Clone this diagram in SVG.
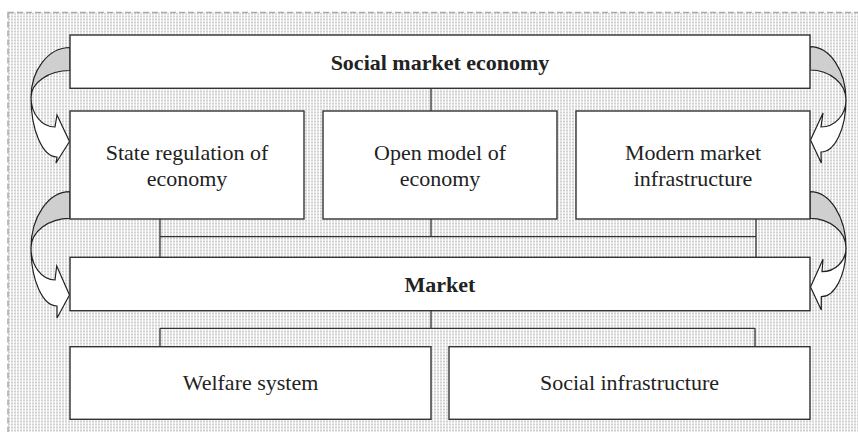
<svg xmlns="http://www.w3.org/2000/svg" width="858" height="432" viewBox="0 0 858 432">
<defs>
<pattern id="dots" x="8" y="12.5" width="3" height="3" patternUnits="userSpaceOnUse">
<rect width="3" height="3" fill="#ffffff"/>
<rect width="2" height="2" fill="#cfcfcf"/>
</pattern>
<style>
.box{fill:#ffffff;stroke:#333333;stroke-width:1.4}
.conn{fill:none;stroke:#333333;stroke-width:1.3}
.back{fill:#cfcfcf;stroke:#222222;stroke-width:1.2;stroke-linejoin:round}
.front{fill:#ffffff;stroke:#222222;stroke-width:1.2;stroke-linejoin:miter}
text{font-family:"Liberation Serif","Times New Roman",serif;font-size:22px;fill:#222222;text-anchor:middle}
.b{font-weight:bold}
</style>
</defs>
<rect x="0" y="0" width="858" height="432" fill="#ffffff"/>
<rect x="8" y="12.5" width="860" height="430" fill="url(#dots)" stroke="#aaaaaa" stroke-width="1.5" stroke-dasharray="6 3"/>

<g id="connectors">
<path class="conn" d="M431,88 V111"/>
<path class="conn" d="M160,219 V257.3"/>
<path class="conn" d="M160,236.7 H756"/>
<path class="conn" d="M431,219 V236.7"/>
<path class="conn" d="M756,219 V257.3"/>
<path class="conn" d="M431,310.7 V328.3"/>
<path class="conn" d="M160,328.3 H755"/>
<path class="conn" d="M160,328.3 V346.7"/>
<path class="conn" d="M755,328.3 V346.7"/>
</g>

<g id="arrows">
<g id="arrow-left-top">
<path class="back" d="M70,47.5 A39,50 0 0 0 31,97.5 A39,27 0 0 1 70,70.5 Z"/>
<path class="front" d="M31,97.5 A24,29.5 0 0 0 55,127 L57,115 L69.5,141.5 L56,163 L57,157 A26,59.5 0 0 1 31,97.5 Z"/>
</g>
<g id="arrow-left-bottom">
<path class="back" d="M70,191.7 A39,56.3 0 0 0 31,248 A39,29.7 0 0 1 70,218.3 Z"/>
<path class="front" d="M31,248 A24,32 0 0 0 55,280 L56.7,266 L69.5,295 L57,318 L57,306 A26,58 0 0 1 31,248 Z"/>
</g>
<g id="arrow-right-top">
<path class="back" d="M810,46.7 A36,53.3 0 0 1 846,100 A36,30 0 0 0 810,70 Z"/>
<path class="front" d="M846,100 A25,27 0 0 1 821,127 L823,113 L810.5,140 L821.3,163 L821,152 A25,52 0 0 0 846,100 Z"/>
</g>
<g id="arrow-right-bottom">
<path class="back" d="M810,191.7 A36,56.3 0 0 1 846,248 A36,29.7 0 0 0 810,218.3 Z"/>
<path class="front" d="M846,248 A24,23.7 0 0 1 822,271.7 L823,259.3 L810.5,287 L821.3,310 L821.3,296.7 A24.7,48.7 0 0 0 846,248 Z"/>
</g>
</g>

<g id="node-social-market-economy">
<rect class="box" x="70" y="35" width="740" height="53.3"/>
<text class="b" x="440" y="70">Social market economy</text>
</g>
<g id="node-state-regulation">
<rect class="box" x="70" y="111" width="234" height="108"/>
<text x="187" y="159.5">State regulation of</text>
<text x="187" y="186">economy</text>
</g>
<g id="node-open-model">
<rect class="box" x="323" y="111" width="234" height="108"/>
<text x="440" y="159.5">Open model of</text>
<text x="440" y="186">economy</text>
</g>
<g id="node-modern-market">
<rect class="box" x="576" y="111" width="234" height="108"/>
<text x="693" y="159.5">Modern market</text>
<text x="693" y="186">infrastructure</text>
</g>
<g id="node-market">
<rect class="box" x="70" y="257.3" width="740" height="53.4"/>
<text class="b" x="440" y="292">Market</text>
</g>
<g id="node-welfare">
<rect class="box" x="70" y="346.7" width="361" height="72.6"/>
<text x="250.5" y="390">Welfare system</text>
</g>
<g id="node-social-infrastructure">
<rect class="box" x="449" y="346.7" width="361" height="72.6"/>
<text x="629.5" y="390">Social infrastructure</text>
</g>
</svg>
